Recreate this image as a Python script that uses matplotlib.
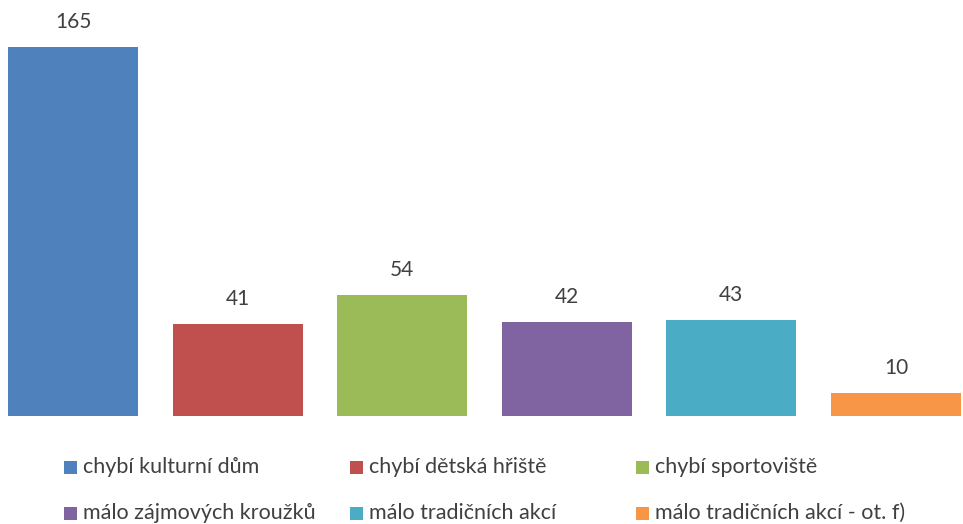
import matplotlib
matplotlib.use("Agg")
import matplotlib.pyplot as plt
from matplotlib.patches import Rectangle

categories = [
    "chybí kulturní dům",
    "chybí dětská hřiště",
    "chybí sportoviště",
    "málo zájmových kroužků",
    "málo tradičních akcí",
    "málo tradičních akcí - ot. f)",
]
values = [165, 41, 54, 42, 43, 10]
colors = ["#4F81BD", "#C0504D", "#9BBB59", "#8064A2", "#4BACC6", "#F79646"]

plt.rcParams["font.family"] = ["Lato", "DejaVu Sans"]
text_color = "#404040"

W, H = 963, 524
fig = plt.figure(figsize=(W / 100, H / 100), dpi=100)

# plot area in pixels: bars from x=8 to 961, baseline at y=415.7
bar_w = 0.79
left_px, right_px = 8, 961
base_px = 415.7
px_per_unit = 2.2345
ymax = 180
top_px = base_px - ymax * px_per_unit
ax = fig.add_axes([left_px / W, (H - base_px) / H,
                   (right_px - left_px) / W, (base_px - top_px) / H])

x = list(range(len(values)))
bars = ax.bar(x, values, width=bar_w, color=colors)
ax.set_xlim(-bar_w / 2, len(values) - 1 + bar_w / 2)
ax.set_ylim(0, ymax)
ax.axis("off")

for xi, v in zip(x, values):
    ax.annotate(str(v), (xi, v), xytext=(0, 18), textcoords="offset points",
                ha="center", va="center", fontsize=15, color=text_color,
                annotation_clip=False)

# legend, three columns, two rows
col_px = [64, 350, 636]
row_px = [467, 513]
sq = 13
for i, (lab, c) in enumerate(zip(categories, colors)):
    cx = col_px[i % 3]
    cy = row_px[i // 3]
    fig.add_artist(Rectangle((cx / W, (H - cy - sq / 2) / H), sq / W, sq / H,
                             transform=fig.transFigure, color=c, lw=0))
    fig.text((cx + 19) / W, (H - cy) / H, lab, ha="left", va="center",
             fontsize=15.5, color=text_color)

fig.savefig("out.png", dpi=100)
